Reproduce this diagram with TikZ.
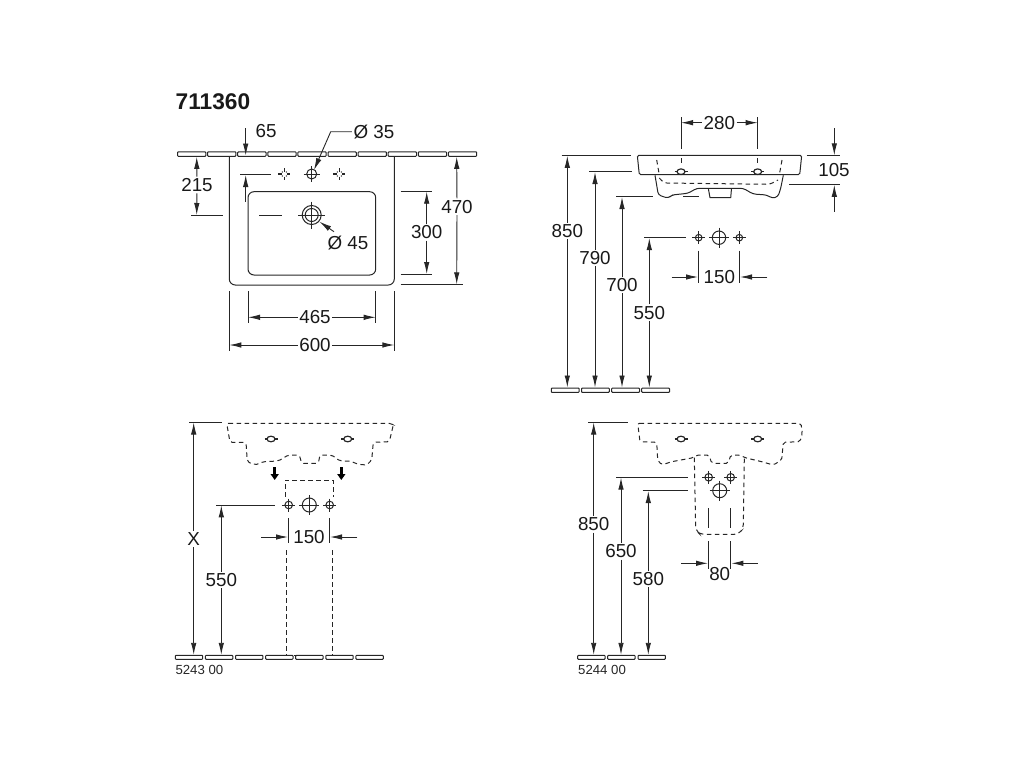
\documentclass[tikz,border=0pt]{standalone}
\usepackage{fontspec}
\setmainfont{Liberation Sans}
\usetikzlibrary{arrows.meta}
\colorlet{linecol}{black!85}

% hole marks: centre, radius, cross arm
\newcommand{\holemark}[4]{
  \draw[partline] (#1,#2) circle (#3);
  \draw[partline] (#1-#4,#2) -- (#1+#4,#2) (#1,#2-#4) -- (#1,#2+#4);
}
\newcommand{\tilemark}[2]{
  \draw[partline, line width=1.2pt] (#1-6,#2) -- (#1-2.5,#2) (#1+2.5,#2) -- (#1+6,#2)
    (#1,#2-6) -- (#1,#2-2.5) (#1,#2+2.5) -- (#1,#2+6);
  \fill[linecol] (#1-2,#2-2) circle (.7) (#1+2,#2-2) circle (.7) (#1-2,#2+2) circle (.7) (#1+2,#2+2) circle (.7);
}
\newcommand{\slotmark}[2]{
  \draw[partline, line width=1.2pt] (#1,#2) ellipse (4 and 2.8);
  \draw[partline, line width=1.2pt] (#1-6.5,#2) -- (#1-4,#2) (#1+4,#2) -- (#1+6.5,#2);
}

\begin{document}
\begin{tikzpicture}[
    x=1pt, y=-1pt,
    partline/.style={draw=linecol, line width=1pt},
    hidden/.style={draw=linecol, line width=1pt, dash pattern=on 4.5pt off 3.5pt},
    extline/.style={draw=linecol, line width=1pt},
    dimarrow/.style={draw=linecol, line width=.9pt, -{Latex[length=12pt,width=5.5pt]}},
    dimtext/.style={inner sep=1.5pt, text=black!90, font=\fontsize{18.8}{20}\selectfont},
    smalltext/.style={inner sep=0pt, anchor=west, text=black!85, font=\fontsize{13.2}{14}\selectfont},
    plate/.style={draw=linecol, line width=1pt, rounded corners=.8pt, fill=white}
]
\useasboundingbox (0,0) rectangle (1024,768);

% Title
\node[inner sep=0pt, anchor=west, text=black!90, font=\fontsize{22.7}{24}\bfseries\selectfont] (title) at (175.5,102) {711360};

% Wall and floor tiles
\foreach \i in {0,...,9} \draw[plate] ({177.5+30.1*\i},151.8) rectangle ++(28.3,4.5);
\foreach \x in {551.3,581.5,611.7,641.7} \draw[plate] (\x,388) rectangle ++(27.8,4.4);
\foreach \i in {0,...,6} \draw[plate] ({175.3+30.1*\i},655.3) rectangle ++(27.4,4);
\foreach \x in {577.7,607.7,638} \draw[plate] (\x,655.3) rectangle ++(27.4,4);

% Top view: basin
\draw[partline, rounded corners=6pt] (229.3,156.3) -- (229.3,285) -- (394.3,285) -- (394.3,156.3);
\draw[partline, rounded corners=6pt] (248,191.7) rectangle (375.7,275);
\draw[extline] (237.7,156.5) -- (259,156.5);
\tilemark{284.3}{174}
\tilemark{339.3}{174}
\holemark{311.7}{174}{5}{8}
\holemark{311.7}{215}{9.5}{13.5}
\draw[partline] (311.7,215) circle (6.5);
\draw[extline] (240,174) -- (271,174);
\draw[extline] (259,215) -- (282,215);

% Top view: dimensions
\node[dimtext] (d65) at (266,131.5) {65};
\coordinate (d65a) at (245.7,128);
\coordinate (d65b) at (245.7,155.5);
\coordinate (d65c) at (245.7,201.7);
\coordinate (d65d) at (245.7,175);
\draw[dimarrow] (d65a) -- (d65b);
\draw[dimarrow] (d65c) -- (d65d);

\node[dimtext] (dia35) at (374,131.7) {Ø 35};
\coordinate (dia35k) at (330.7,131.7);
\coordinate (dia35t) at (314,170);
\draw[dimarrow] (dia35.west) -- (dia35k) -- (dia35t);

\node[dimtext] (dia45) at (348,243) {Ø 45};
\coordinate (dia45s) at (334,231.7);
\coordinate (dia45t) at (319.5,221.7);
\draw[dimarrow] (dia45s) -- (dia45t);

\node[dimtext] (d215) at (197,185) {215};
\coordinate (d215a) at (196.7,156.8);
\coordinate (d215b) at (196.7,215);
\draw[dimarrow] (d215) -- (d215a);
\draw[dimarrow] (d215) -- (d215b);
\draw[extline] (191,215) -- (223,215);

\node[dimtext] (d470) at (457,206.7) {470};
\coordinate (d470a) at (456.7,156.8);
\coordinate (d470b) at (456.7,284.3);
\draw[dimarrow] (d470) -- (d470a);
\draw[dimarrow] (d470) -- (d470b);
\draw[extline] (400.7,284.3) -- (462.7,284.3);

\node[dimtext] (d300) at (426.7,232.3) {300};
\coordinate (d300a) at (426.7,191.7);
\coordinate (d300b) at (426.7,274);
\draw[dimarrow] (d300) -- (d300a);
\draw[dimarrow] (d300) -- (d300b);
\draw[extline] (400.7,191.7) -- (432.3,191.7);
\draw[extline] (400.7,274) -- (432.3,274);

\node[dimtext] (d465) at (315,317.3) {465};
\coordinate (d465a) at (248,317.3);
\coordinate (d465b) at (375.7,317.3);
\draw[dimarrow] (d465) -- (d465a);
\draw[dimarrow] (d465) -- (d465b);
\draw[extline] (248,291) -- (248,323.3);
\draw[extline] (375.7,291) -- (375.7,323.3);

\node[dimtext] (d600) at (315,345) {600};
\coordinate (d600a) at (229.3,345);
\coordinate (d600b) at (394.3,345);
\draw[dimarrow] (d600) -- (d600a);
\draw[dimarrow] (d600) -- (d600b);
\draw[extline] (229.3,291) -- (229.3,350.7);
\draw[extline] (394.3,291) -- (394.3,350.7);

% Side view: basin
\draw[partline, rounded corners=1.5pt] (637.3,155.3) -- (801.7,155.3) -- (799.7,174.7) -- (639.3,174.7) -- cycle;
\draw[partline, rounded corners=3pt] (655,175.3) -- (658.3,195) -- (668.3,198.3) -- (671.7,195) -- (688,193.3) -- (696.7,188.3) -- (743.3,188.3) -- (753,194) -- (767,195) -- (772,198.3) -- (778,196.7) -- (780.7,188.3) -- (783.3,175.3);
\draw[partline] (708.3,188.3) -- (710,197.7) -- (730.7,197.7) -- (731.5,188.3);
\draw[hidden] (656.7,160) -- (659.3,175);
\draw[hidden] (782,160) -- (779.3,175);
\draw[hidden, rounded corners=3pt] (659.3,178) -- (664,183) -- (770,184.3) -- (778,180);
\draw[hidden] (681,158) -- (681,166);
\draw[hidden] (757.7,158) -- (757.7,166);
\slotmark{681}{171.7}
\slotmark{757.7}{171.7}
\holemark{698.7}{237.7}{3.3}{6.5}
\holemark{719}{237.7}{6.7}{10}
\holemark{739.3}{237.7}{3.3}{6.5}

% Side view: dimensions
\node[dimtext] (s280) at (719.3,122.7) {280};
\coordinate (s280a) at (681,122.7);
\coordinate (s280b) at (757.7,122.7);
\draw[dimarrow] (s280) -- (s280a);
\draw[dimarrow] (s280) -- (s280b);
\draw[extline] (681,117.3) -- (681,149);
\draw[extline] (757.7,117.3) -- (757.7,149);

\node[dimtext] (s105) at (834,170.3) {105};
\coordinate (s105a) at (834.3,128.3);
\coordinate (s105b) at (834.3,155.3);
\coordinate (s105c) at (834.3,211.7);
\coordinate (s105d) at (834.3,184.8);
\draw[dimarrow] (s105a) -- (s105b);
\draw[dimarrow] (s105c) -- (s105d);
\draw[extline] (806.7,155.3) -- (840,155.3);
\draw[extline] (789,184.3) -- (840,184.3);

\node[dimtext] (s850) at (567.3,231) {850};
\coordinate (s850a) at (567.3,155.8);
\coordinate (s850b) at (567.3,387.5);
\draw[dimarrow] (s850) -- (s850a);
\draw[dimarrow] (s850) -- (s850b);
\draw[extline] (561.7,155.3) -- (630.7,155.3);

\node[dimtext] (s790) at (595,258) {790};
\coordinate (s790a) at (595,172);
\coordinate (s790b) at (595,387.5);
\draw[dimarrow] (s790) -- (s790a);
\draw[dimarrow] (s790) -- (s790b);
\draw[extline] (589,171.7) -- (632.3,171.7);

\node[dimtext] (s700) at (622,285) {700};
\coordinate (s700a) at (622,197);
\coordinate (s700b) at (622,387.5);
\draw[dimarrow] (s700) -- (s700a);
\draw[dimarrow] (s700) -- (s700b);
\draw[extline] (616.3,196.7) -- (653.3,196.7);
\draw[extline] (683.3,196.7) -- (698.7,196.7);

\node[dimtext] (s550) at (649.3,312.7) {550};
\coordinate (s550a) at (649.3,238);
\coordinate (s550b) at (649.3,387.5);
\draw[dimarrow] (s550) -- (s550a);
\draw[dimarrow] (s550) -- (s550b);
\draw[extline] (644,237.7) -- (685.7,237.7);

\node[dimtext] (s150) at (719.3,277) {150};
\coordinate (s150a) at (671.7,277);
\coordinate (s150b) at (698,277);
\coordinate (s150c) at (767.3,277);
\coordinate (s150d) at (740,277);
\draw[dimarrow] (s150a) -- (s150b);
\draw[dimarrow] (s150c) -- (s150d);
\draw[extline] (698.7,250.7) -- (698.7,282.7);
\draw[extline] (739.7,250.7) -- (739.7,282.7);

% Pedestal view
\draw[hidden, rounded corners=2pt] (226.7,423.3) -- (391,423.3) -- (393.3,425) -- (389.3,441.7) -- (373.3,442.3) -- (371.7,460) -- (366.7,465) -- (358.3,464.3) -- (350,461) -- (340,461) -- (331.7,455) -- (320,455) -- (318.3,463.3) -- (301.7,463.3) -- (299.3,455) -- (288.3,455) -- (278.3,461) -- (263.3,461.7) -- (255,465) -- (247.3,461.7) -- (246,442.3) -- (230,442.3) -- cycle;
\slotmark{271}{439}
\slotmark{347.7}{439}
\draw[-{Triangle[length=6pt,width=8pt]}, black, line width=3.4pt] (274.7,467) -- (274.7,480);
\draw[-{Triangle[length=6pt,width=8pt]}, black, line width=3.4pt] (341.3,467) -- (341.3,480);
\draw[hidden] (285,496.7) -- (285,480) -- (333.3,480) -- (333.3,496.7);
\draw[hidden] (286,550) -- (286,655.3);
\draw[hidden] (332.7,550) -- (332.7,655.3);
\draw[hidden] (286,655.8) -- (332.7,655.8);
\holemark{288.7}{505}{3.8}{6.5}
\holemark{309.3}{505}{7}{10}
\holemark{329.7}{505}{3.8}{6.5}

\node[dimtext] (p-x) at (193.7,539) {X};
\coordinate (pxa) at (193.7,422.5);
\coordinate (pxb) at (193.7,654.8);
\draw[dimarrow] (p-x) -- (pxa);
\draw[dimarrow] (p-x) -- (pxb);
\draw[extline] (189.3,422.3) -- (222.3,422.3);

\node[dimtext] (p550) at (221.3,580) {550};
\coordinate (p550a) at (221.3,505.3);
\coordinate (p550b) at (221.3,654.8);
\draw[dimarrow] (p550) -- (p550a);
\draw[dimarrow] (p550) -- (p550b);
\draw[extline] (216,505) -- (275,505);

\node[dimtext] (p150) at (309,537) {150};
\coordinate (p150a) at (261,537);
\coordinate (p150b) at (288,537);
\coordinate (p150c) at (357.3,537);
\coordinate (p150d) at (330,537);
\draw[dimarrow] (p150a) -- (p150b);
\draw[dimarrow] (p150c) -- (p150d);
\draw[extline] (288.7,518.3) -- (288.7,542.7);
\draw[extline] (329.7,518.3) -- (329.7,542.7);

\node[smalltext] (ref5243) at (175.3,669.5) {5243 00};

% Half pedestal view
\draw[hidden, rounded corners=2pt] (637.7,423.3) -- (801,423.3) -- (802.3,433.3) -- (800,441.7) -- (783.3,442.3) -- (781.7,460) -- (773.3,465) -- (761.7,461.7) -- (745,457.7) -- (740,455) -- (730.7,455) -- (728.3,463.3) -- (711.7,463.3) -- (709,455) -- (696.7,455) -- (693.3,457.7) -- (671.7,461.7) -- (661.7,465) -- (657.7,460) -- (656.7,442.3) -- (640,441.7) -- cycle;
\slotmark{681}{439}
\slotmark{757.7}{439}
\draw[hidden, rounded corners=4pt] (694.3,457.7) -- (695.7,530) -- (700,534.3) -- (738.3,534.3) -- (743.3,528.3) -- (744.3,457.7);
\holemark{708.7}{477.3}{3.8}{6.5}
\holemark{730.7}{477.3}{3.8}{6.5}
\holemark{719.7}{490.7}{7}{10}
\draw[extline] (708.7,508.3) -- (708.7,527.7);
\draw[extline] (730.7,508.3) -- (730.7,527.7);

\node[dimtext] (h850) at (593.7,524.3) {850};
\coordinate (h850a) at (593.7,422.5);
\coordinate (h850b) at (593.7,654.8);
\draw[dimarrow] (h850) -- (h850a);
\draw[dimarrow] (h850) -- (h850b);
\draw[extline] (588.3,422.3) -- (628.3,422.3);

\node[dimtext] (h650) at (621,551.3) {650};
\coordinate (h650a) at (621,477.6);
\coordinate (h650b) at (621,654.8);
\draw[dimarrow] (h650) -- (h650a);
\draw[dimarrow] (h650) -- (h650b);
\draw[extline] (616,477.3) -- (688.3,477.3);

\node[dimtext] (h580) at (648.3,579) {580};
\coordinate (h580a) at (648.3,491);
\coordinate (h580b) at (648.3,654.8);
\draw[dimarrow] (h580) -- (h580a);
\draw[dimarrow] (h580) -- (h580b);
\draw[extline] (642.7,490.7) -- (688.3,490.7);

\node[dimtext] (h80) at (719.7,574) {80};
\coordinate (h80a) at (681,563.3);
\coordinate (h80b) at (708,563.3);
\coordinate (h80c) at (757.7,563.3);
\coordinate (h80d) at (731.4,563.3);
\draw[dimarrow] (h80a) -- (h80b);
\draw[dimarrow] (h80c) -- (h80d);
\draw[extline] (708.7,541) -- (708.7,569.3);
\draw[extline] (730.7,541) -- (730.7,569.3);

\node[smalltext] (ref5244) at (578,669.5) {5244 00};
\end{tikzpicture}
\end{document}
